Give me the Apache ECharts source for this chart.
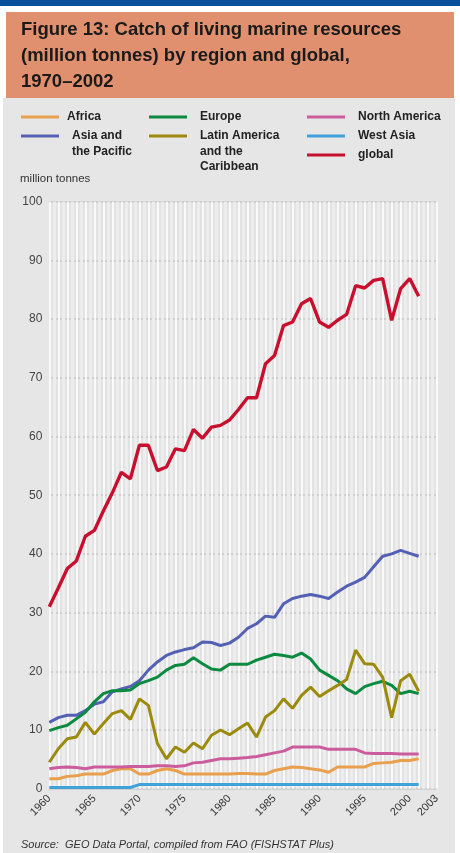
<!DOCTYPE html>
<html>
<head>
<meta charset="utf-8">
<script src="https://cdn.jsdelivr.net/npm/echarts@6/dist/echarts.min.js"></script>
<style>
  html, body { margin: 0; padding: 0; width: 460px; height: 853px; background: #ffffff; overflow: hidden; }
  #band { position: absolute; left: 0; top: 0; width: 460px; height: 6px; background: #0a4f9c; }
  #titlebox { position: absolute; left: 6px; top: 12px; width: 448px; height: 86px; background: #e0906e; }
  #panel { position: absolute; left: 3px; top: 98px; width: 452px; height: 755px; background: #e6e6e6; }
  #chart { position: absolute; left: 0; top: 0; width: 460px; height: 853px; }
</style>
</head>
<body>
<div id="band"></div>
<div id="titlebox"></div>
<div id="panel"></div>
<div id="chart"></div>
<script>
// ---- data (million tonnes) ----
var years = [1960,1961,1962,1963,1964,1965,1966,1967,1968,1969,
             1970,1971,1972,1973,1974,1975,1976,1977,1978,1979,
             1980,1981,1982,1983,1984,1985,1986,1987,1988,1989,
             1990,1991,1992,1993,1994,1995,1996,1997,1998,1999,
             2000,2001];
var africa = [1.7,1.7,2.1,2.2,2.5,2.5,2.5,3.1,3.4,3.4,
              2.5,2.5,3.1,3.4,3.1,2.5,2.5,2.5,2.5,2.5,
              2.5,2.6,2.6,2.5,2.5,3.1,3.4,3.7,3.6,3.4,
              3.2,2.8,3.7,3.7,3.7,3.7,4.3,4.4,4.5,4.8,
              4.8,5.1];
var asiaPacific = [11.3,12.1,12.5,12.5,13.3,14.4,14.8,16.5,17.0,17.4,
                   18.4,20.2,21.6,22.7,23.3,23.7,24.0,25.0,24.9,24.4,
                   24.8,25.8,27.3,28.1,29.4,29.2,31.5,32.4,32.8,33.1,
                   32.8,32.4,33.5,34.5,35.2,36.0,37.8,39.6,40.0,40.6,
                   40.1,39.6];
var europe = [9.9,10.4,10.8,11.9,13.0,14.8,16.2,16.7,16.7,16.8,
              17.9,18.4,19.0,20.2,21.0,21.2,22.3,21.3,20.4,20.2,
              21.2,21.2,21.2,21.9,22.4,22.9,22.7,22.4,23.1,22.1,
              20.2,19.3,18.4,17.0,16.2,17.4,17.9,18.3,17.6,16.2,
              16.6,16.2];
var latinAmerica = [4.5,6.8,8.5,8.8,11.3,9.3,11.1,12.8,13.3,11.8,
                    15.3,14.2,7.7,5.1,7.1,6.2,7.8,6.8,9.1,10.0,
                    9.2,10.2,11.2,8.8,12.2,13.3,15.3,13.7,15.9,17.3,
                    15.7,16.7,17.6,18.6,23.6,21.3,21.2,19.0,12.1,18.4,
                    19.5,16.6];
var northAmerica = [3.4,3.6,3.7,3.6,3.4,3.7,3.7,3.7,3.7,3.8,
                    3.8,3.8,3.9,3.9,3.8,3.9,4.4,4.5,4.8,5.1,
                    5.1,5.2,5.3,5.5,5.8,6.1,6.4,7.1,7.1,7.1,
                    7.1,6.7,6.7,6.7,6.7,6.1,6.0,6.0,6.0,5.9,
                    5.9,5.9];
var westAsia = [0.2,0.2,0.2,0.2,0.2,0.2,0.2,0.2,0.2,0.2,
                0.7,0.7,0.7,0.7,0.7,0.7,0.7,0.7,0.7,0.7,
                0.7,0.7,0.7,0.7,0.7,0.7,0.7,0.7,0.7,0.7,
                0.7,0.7,0.7,0.7,0.7,0.7,0.7,0.7,0.7,0.7,
                0.7,0.7];
var globalCatch = [31.0,34.2,37.5,38.8,43.0,44.0,47.3,50.4,53.9,52.8,
                   58.5,58.5,54.2,54.8,57.9,57.6,61.2,59.7,61.6,61.9,
                   62.8,64.6,66.6,66.6,72.4,73.8,78.9,79.5,82.6,83.5,
                   79.5,78.6,79.8,80.8,85.7,85.3,86.6,86.9,79.8,85.2,
                   86.9,83.9];
var xTickLabels = [1960,1965,1970,1975,1980,1985,1990,1995,2000,2003];
var yTickLabels = [0,10,20,30,40,50,60,70,80,90,100];

var seriesNames = ['Africa','Asia and the Pacific','Europe','Latin America and the Caribbean','North America','West Asia','global'];
var legendLabels = ['Africa','Asia and\nthe Pacific','Europe','Latin America\nand the\nCaribbean','North America','West Asia','global'];
var seriesColors = ['#e9a04e','#5360b4','#0b8a40','#9b8a0c','#cb5d9d','#3fa2da','#c8102e'];
var seriesValues = [africa, asiaPacific, europe, latinAmerica, northAmerica, westAsia, globalCatch];

var FONT = '"Liberation Sans", Arial, Helvetica, sans-serif';
var LH = 15.5;

function pairs(arr) { return years.map(function (y, i) { return [y, arr[i]]; }); }

var series = seriesNames.map(function (n, i) {
  return {
    name: n, type: 'line', data: pairs(seriesValues[i]),
    symbol: 'none', smooth: false,
    lineStyle: { color: seriesColors[i], width: n === 'global' ? 3.4 : 3 },
    itemStyle: { color: seriesColors[i] },
    z: n === 'global' ? 4 : 3
  };
});

// legend item: icon centred on the first text line (blank lines pad the block above)
function legendItem(idx, left, yc, gap) {
  var label = legendLabels[idx];
  var lines = label.split('\n').length;
  var text = '';
  for (var k = 1; k < lines; k++) text += ' \n';
  text += label;
  var total = 2 * lines - 1;
  return {
    data: [seriesNames[idx]], left: left, top: yc - LH * total / 2, padding: 0,
    icon: 'rect', itemWidth: 38, itemHeight: 3, selectedMode: false,
    formatter: text,
    textStyle: {
      fontFamily: FONT, fontSize: 12, fontWeight: 'bold', color: '#222',
      lineHeight: LH, padding: [0, 0, 0, gap]
    }
  };
}

var chart = echarts.init(document.getElementById('chart'), null, { renderer: 'canvas' });
chart.setOption({
  backgroundColor: 'transparent',
  animation: false,
  color: seriesColors,
  title: [
    { text: 'Figure 13: Catch of living marine resources\n(million tonnes) by region and global,\n1970\u20132002',
      left: 21, top: 16.5, padding: 0,
      textStyle: { fontFamily: FONT, fontSize: 18.5, fontWeight: 'bold', lineHeight: 26, color: '#1a1a1a' } },
    { text: 'million tonnes', left: 20, top: 172, padding: 0,
      textStyle: { fontFamily: FONT, fontSize: 11.5, fontWeight: 'normal', color: '#333', lineHeight: 14 } },
    { text: 'Source:  GEO Data Portal, compiled from FAO (FISHSTAT Plus)', left: 21, top: 838, padding: 0,
      textStyle: { fontFamily: FONT, fontSize: 11, fontStyle: 'italic', fontWeight: 'normal', color: '#333', lineHeight: 14 } }
  ],
  legend: [
    legendItem(0, 21, 117, 3),
    legendItem(1, 21, 136, 8),
    legendItem(2, 149, 117, 8),
    legendItem(3, 149, 136, 8),
    legendItem(4, 307, 117, 8),
    legendItem(5, 307, 136, 8),
    legendItem(6, 307, 155, 8)
  ],
  grid: { left: 49.3, right: 23.3, top: 201.7, bottom: 64.3, show: true, backgroundColor: '#e3e3e3', borderWidth: 0 },
  xAxis: {
    type: 'value', min: 1960, max: 2003, interval: 1,
    axisLine: { show: false }, axisTick: { show: false },
    splitLine: { show: true, lineStyle: { color: '#ffffff', width: 1.6 } },
    minorTick: { show: false, splitNumber: 2 },
    minorSplitLine: { show: true, lineStyle: { color: '#ededed', width: 3 } },
    axisLabel: {
      rotate: 45, margin: 8, fontFamily: FONT, fontSize: 11, color: '#333',
      formatter: function (v) { return xTickLabels.indexOf(v) >= 0 ? String(v) : ''; }
    }
  },
  yAxis: {
    type: 'value', min: 0, max: 100, interval: 10,
    axisLine: { show: false }, axisTick: { show: false },
    splitLine: { show: true, lineStyle: { color: '#c9c9c9', width: 1.6 } },
    axisLabel: {
      margin: 7, fontFamily: FONT, fontSize: 12, color: '#444',
      formatter: function (v) { return yTickLabels.indexOf(v) >= 0 ? String(v) : ''; }
    }
  },
  series: series
});
</script>
</body>
</html>
